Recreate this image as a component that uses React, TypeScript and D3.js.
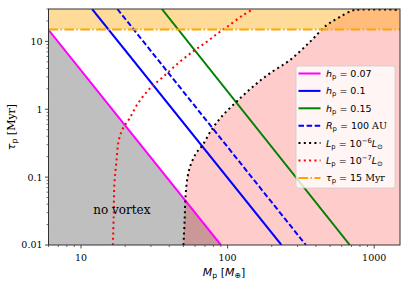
import React from "react";
import * as d3 from "d3";

// ---- data ----
const xDomain = [6, 1500];
const yDomain = [0.01, 30];
const xMajorTicks = [10, 100, 1000];
const yMajorTicks = [0.01, 0.1, 1, 10];
const xTickLabels = ["10", "100", "1000"];
const yTickLabels = ["0.01", "0.1", "1", "10"];

// straight critical lines (two end points each, M in Earth masses, tau in Myr)
const magentaM = [6, 90];
const magentaT = [14.8, 0.01];
const blueM = [11.9, 233];
const blueT = [30, 0.01];
const blueDashM = [17.7, 342];
const blueDashT = [30, 0.01];
const greenM = [35.6, 682];
const greenT = [30, 0.01];

// luminosity curves
const blackM = [50, 50.9, 51.7, 53.3, 55.9, 61, 67.5, 77.4, 90.6, 114.5, 148, 194, 265, 363, 472, 581, 713, 780, 1500];
const blackT = [0.01, 0.023, 0.054, 0.1, 0.15, 0.225, 0.296, 0.49, 0.77, 1.28, 2.13, 3.38, 5.26, 9.76, 17.2, 22.8, 28.6, 29.3, 29.3];
const redM = [16.5, 16.7, 16.9, 17.4, 18.1, 19.3, 21.4, 24.4, 29.4, 36.2, 47, 59.5, 71.6, 85.5, 100, 126.5, 150];
const redT = [0.01, 0.026, 0.082, 0.161, 0.35, 0.52, 0.73, 1.21, 2.01, 2.99, 4.96, 7.38, 9.77, 13.1, 16.6, 24.1, 30];

const tauLimit = 15;
const noVortexPos = [19, 0.029];

const W = 407, H = 285;
const L = 48.5, R = 400, T = 9, B = 245;

export default function App() {
  const x = d3.scaleLog().domain(xDomain).range([L, R]);
  const y = d3.scaleLog().domain(yDomain).range([B, T]);

  const line2 = (ms: number[], ts: number[]) =>
    d3.line<number>().x((_, i) => x(ms[i])).y((_, i) => y(ts[i]))(ms) as string;
  const curve = (ms: number[], ts: number[]) =>
    d3.line<number>().x((_, i) => x(ms[i])).y((_, i) => y(ts[i])).curve(d3.curveCatmullRom.alpha(0.5))(ms) as string;

  const xMinor: number[] = [];
  for (const dec of [1, 10, 100]) for (let k = 2; k <= 9; k++) {
    const v = dec * k;
    if (v >= xDomain[0] && v <= xDomain[1] && !xMajorTicks.includes(v)) xMinor.push(v);
  }
  const yMinor: number[] = [];
  for (const dec of [0.01, 0.1, 1, 10]) for (let k = 2; k <= 9; k++) {
    const v = dec * k;
    if (v >= yDomain[0] && v <= yDomain[1] * 1.0001) yMinor.push(v);
  }

  // regions
  const grayPoly = [
    [x(xDomain[0]), y(yDomain[0])],
    [x(magentaM[0]), y(magentaT[0])],
    [x(magentaM[1]), y(magentaT[1])],
  ];
  const pinkPts: [number, number][] = blackM.map((m, i) => [x(m), y(blackT[i])]);
  const pinkPath =
    (d3.line().curve(d3.curveCatmullRom.alpha(0.5))(pinkPts) as string) +
    `L${x(xDomain[1])},${y(yDomain[1])}L${x(xDomain[1])},${y(yDomain[0])}Z`;

  const serif = "DejaVu Serif";
  const sans = "DejaVu Sans";

  const legendItems = [
    { color: "#ff00ff", dash: "", w: 2, label: [["h", "i"], ["p", "s"], [" = 0.07", "n"]] },
    { color: "#0000ff", dash: "", w: 2, label: [["h", "i"], ["p", "s"], [" = 0.1", "n"]] },
    { color: "#008000", dash: "", w: 2, label: [["h", "i"], ["p", "s"], [" = 0.15", "n"]] },
    { color: "#0000ff", dash: "5.5,2.6", w: 2, label: [["R", "i"], ["p", "s"], [" = 100 ", "n"], ["AU", "serif"]] },
    { color: "#000000", dash: "2,3.3", w: 2, label: [["L", "i"], ["p", "s"], [" = 10", "n"], ["−6", "sup"], ["L", "i"], ["⊙", "s"]] },
    { color: "#ff0000", dash: "2,3.3", w: 2, label: [["L", "i"], ["p", "s"], [" = 10", "n"], ["−7", "sup"], ["L", "i"], ["⊙", "s"]] },
    { color: "#ffa500", dash: "9.6,2.4,1.5,2.4", w: 2, label: [["τ", "i"], ["p", "s"], [" = 15 ", "n"], ["Myr", "serif"]] },
  ];

  const renderLabel = (parts: string[][]) =>
    parts.map(([t, k], i) => {
      if (k === "i") return <tspan key={i} fontStyle="italic">{t}</tspan>;
      if (k === "s") return <tspan key={i} fontSize={6.8} baselineShift="-2.2">{t}</tspan>;
      if (k === "sup") return <tspan key={i} fontSize={6.8} baselineShift="4">{t}</tspan>;
      if (k === "serif") return <tspan key={i} fontFamily={serif}>{t}</tspan>;
      return <tspan key={i}>{t}</tspan>;
    });

  return (
    <svg width={W} height={H} style={{ position: "absolute", left: 0, top: 0 }}>
      <rect x={0} y={0} width={W} height={H} fill="white" />
      <defs>
        <clipPath id="plot">
          <rect x={L} y={T} width={R - L} height={B - T} />
        </clipPath>
      </defs>
      <g clipPath="url(#plot)">
        <polygon points={grayPoly.map((p) => p.join(",")).join(" ")} fill="rgba(128,128,128,0.5)" />
        <path d={pinkPath} fill="rgba(255,0,0,0.2)" />
        <rect x={L} y={y(yDomain[1])} width={R - L} height={y(tauLimit) - y(yDomain[1])} fill="rgba(255,165,0,0.4)" />
        <path d={line2(magentaM, magentaT)} stroke="#ff00ff" strokeWidth={2} fill="none" />
        <path d={line2(blueM, blueT)} stroke="#0000ff" strokeWidth={2} fill="none" />
        <path d={line2(blueDashM, blueDashT)} stroke="#0000ff" strokeWidth={2} fill="none" strokeDasharray="5.5,2.6" />
        <path d={line2(greenM, greenT)} stroke="#008000" strokeWidth={2} fill="none" />
        <path d={curve(blackM, blackT)} stroke="#000" strokeWidth={2} fill="none" strokeDasharray="2,3.3" />
        <path d={curve(redM, redT)} stroke="#ff0000" strokeWidth={2} fill="none" strokeDasharray="2,3.3" />
        <line x1={L} x2={R} y1={y(tauLimit)} y2={y(tauLimit)} stroke="#ffa500" strokeWidth={2} strokeDasharray="9.6,2.4,1.5,2.4" />
      </g>

      <text x={x(noVortexPos[0])} y={y(noVortexPos[1])} fontFamily={serif} fontSize={12} textAnchor="middle" fill="#000">no vortex</text>

      {/* axes frame */}
      <rect x={L} y={T} width={R - L} height={B - T} fill="none" stroke="#333" strokeWidth={1} />

      {/* x ticks */}
      {xMajorTicks.map((v, i) => (
        <g key={"xm" + v}>
          <line x1={x(v)} x2={x(v)} y1={B} y2={B + 3.5} stroke="#333" strokeWidth={0.9} />
          <text x={x(v)} y={B + 15.5} fontFamily={serif} fontSize={9.5} textAnchor="middle">{xTickLabels[i]}</text>
        </g>
      ))}
      {xMinor.map((v) => (
        <line key={"xn" + v} x1={x(v)} x2={x(v)} y1={B} y2={B + 2} stroke="#333" strokeWidth={0.7} />
      ))}
      {/* y ticks */}
      {yMajorTicks.map((v, i) => (
        <g key={"ym" + v}>
          <line x1={L - 3.5} x2={L} y1={y(v)} y2={y(v)} stroke="#333" strokeWidth={0.9} />
          <text x={L - 6} y={y(v) + 3.4} fontFamily={serif} fontSize={9.5} textAnchor="end">{yTickLabels[i]}</text>
        </g>
      ))}
      {yMinor.map((v) => (
        <line key={"yn" + v} x1={L - 2} x2={L} y1={y(v)} y2={y(v)} stroke="#333" strokeWidth={0.7} />
      ))}

      {/* axis labels */}
      <text x={224} y={276} fontFamily={sans} fontSize={11} textAnchor="middle">
        <tspan fontStyle="italic">M</tspan>
        <tspan fontSize={7.7} baselineShift="-2.4">p</tspan>
        <tspan> [</tspan>
        <tspan fontStyle="italic">M</tspan>
        <tspan fontSize={7.7} baselineShift="-2.4">⊕</tspan>
        <tspan>]</tspan>
      </text>
      <text transform={`translate(15,${(T + B) / 2}) rotate(-90)`} fontFamily={sans} fontSize={11} textAnchor="middle">
        <tspan fontStyle="italic">τ</tspan>
        <tspan fontSize={7.7} baselineShift="-2.4">p</tspan>
        <tspan fontFamily={serif}> [Myr]</tspan>
      </text>

      {/* legend */}
      <rect x={296} y={66} width={99} height={122} rx={2.5} fill="rgba(255,255,255,0.8)" stroke="#cccccc" strokeWidth={0.8} />
      {legendItems.map((it, i) => {
        const yy = 73.5 + i * 17.4;
        return (
          <g key={"lg" + i}>
            <line x1={298.5} x2={320.5} y1={yy} y2={yy} stroke={it.color} strokeWidth={it.w} strokeDasharray={it.dash || undefined} />
            <text x={326} y={yy + 3.4} fontFamily={sans} fontSize={9.5}>{renderLabel(it.label)}</text>
          </g>
        );
      })}
    </svg>
  );
}
